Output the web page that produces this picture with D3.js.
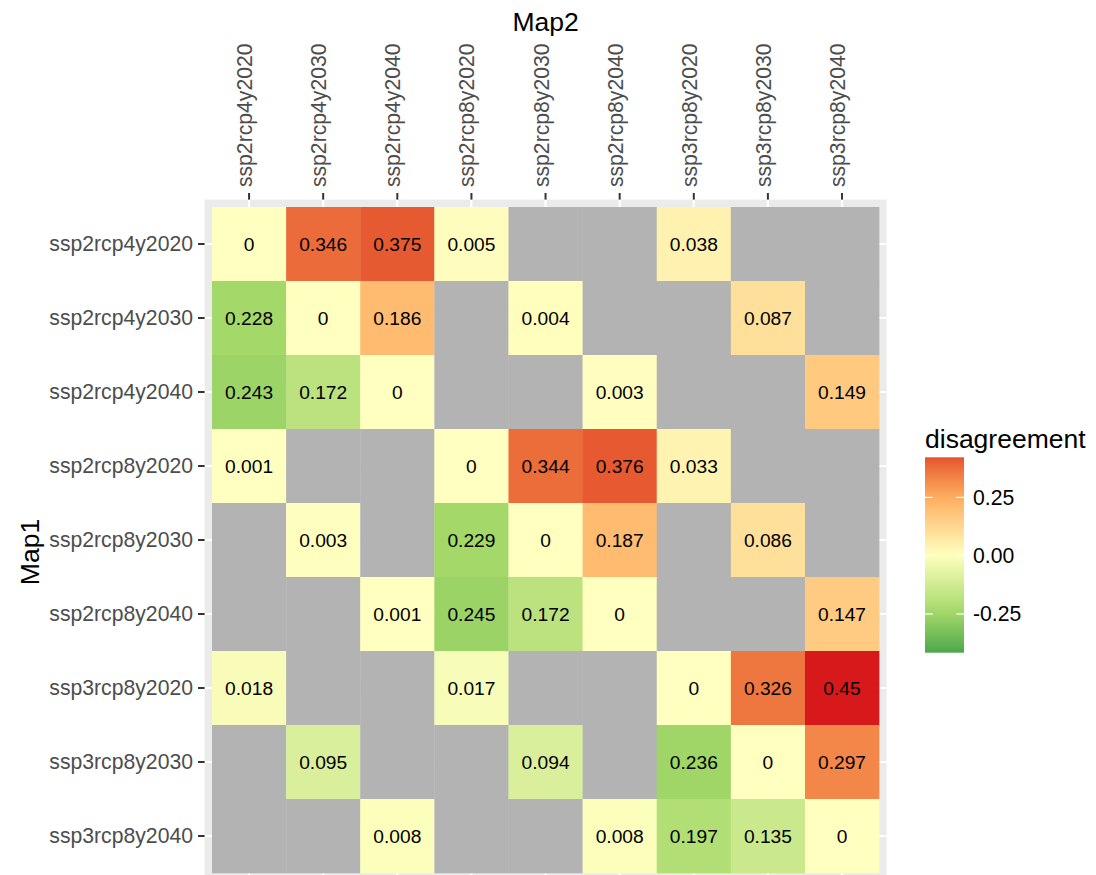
<!DOCTYPE html>
<html>
<head>
<meta charset="utf-8">
<script src="https://cdn.jsdelivr.net/npm/d3@7"></script>
<style>
  html, body { margin: 0; padding: 0; background: #ffffff; }
  svg { display: block; font-family: "Liberation Sans", Arial, sans-serif; }
</style>
</head>
<body>
<svg id="chart" width="1096" height="875"></svg>
<script>
// ---------------- data ----------------
const map1Categories = ["ssp2rcp4y2020","ssp2rcp4y2030","ssp2rcp4y2040","ssp2rcp8y2020","ssp2rcp8y2030","ssp2rcp8y2040","ssp3rcp8y2020","ssp3rcp8y2030","ssp3rcp8y2040"];
const map2Categories = ["ssp2rcp4y2020","ssp2rcp4y2030","ssp2rcp4y2040","ssp2rcp8y2020","ssp2rcp8y2030","ssp2rcp8y2040","ssp3rcp8y2020","ssp3rcp8y2030","ssp3rcp8y2040"];

// signed disagreement (lower triangle negative); null = NA
const rowSsp2rcp4y2020 = [0, 0.346, 0.375, 0.005, null, null, 0.038, null, null];
const rowSsp2rcp4y2030 = [-0.228, 0, 0.186, null, 0.004, null, null, 0.087, null];
const rowSsp2rcp4y2040 = [-0.243, -0.172, 0, null, null, 0.003, null, null, 0.149];
const rowSsp2rcp8y2020 = [-0.001, null, null, 0, 0.344, 0.376, 0.033, null, null];
const rowSsp2rcp8y2030 = [null, -0.003, null, -0.229, 0, 0.187, null, 0.086, null];
const rowSsp2rcp8y2040 = [null, null, -0.001, -0.245, -0.172, 0, null, null, 0.147];
const rowSsp3rcp8y2020 = [-0.018, null, null, -0.017, null, null, 0, 0.326, 0.45];
const rowSsp3rcp8y2030 = [null, -0.095, null, null, -0.094, null, -0.236, 0, 0.297];
const rowSsp3rcp8y2040 = [null, null, -0.008, null, null, -0.008, -0.197, -0.135, 0];

const legendTicks = [-0.25, 0, 0.25];
const legendTickLabels = ["-0.25", "0.00", "0.25"];

const rows = [rowSsp2rcp4y2020,rowSsp2rcp4y2030,rowSsp2rcp4y2040,rowSsp2rcp8y2020,rowSsp2rcp8y2030,rowSsp2rcp8y2040,rowSsp3rcp8y2020,rowSsp3rcp8y2030,rowSsp3rcp8y2040];
const cells = [];
rows.forEach((r, i) => r.forEach((v, j) => cells.push({ map1: map1Categories[i], map2: map2Categories[j], value: v })));

// ---------------- layout ----------------
const panel = { left: 204.6, right: 886.5, top: 199.6, bottom: 880.4 };
const expand = 0.6;
const unitX = (panel.right - panel.left) / (map2Categories.length - 1 + 2 * expand);
const unitY = (panel.bottom - panel.top) / (map1Categories.length - 1 + 2 * expand);

const x = d3.scaleBand().domain(map2Categories)
  .range([panel.left + (expand - 0.5) * unitX, panel.right - (expand - 0.5) * unitX]);
const y = d3.scaleBand().domain(map1Categories)
  .range([panel.top + (expand - 0.5) * unitY, panel.bottom - (expand - 0.5) * unitY]);

const color = d3.scaleLinear()
  .domain([-0.45, -0.225, 0, 0.225, 0.45])
  .range(["#1a9641", "#a6d96a", "#ffffbf", "#fdae61", "#d7191c"])
  .interpolate(d3.interpolateLab);
const naColor = "#b3b3b3";

const svg = d3.select("#chart");
const textCol = "#4d4d4d";

// panel background
svg.append("rect")
  .attr("x", panel.left).attr("y", panel.top)
  .attr("width", panel.right - panel.left).attr("height", panel.bottom - panel.top)
  .attr("fill", "#ebebeb");

// grid lines
svg.append("g").selectAll("line").data(map2Categories).join("line")
  .attr("x1", d => x(d) + x.bandwidth() / 2).attr("x2", d => x(d) + x.bandwidth() / 2)
  .attr("y1", panel.top).attr("y2", panel.bottom)
  .attr("stroke", "#ffffff").attr("stroke-width", 2.2);
svg.append("g").selectAll("line").data(map1Categories).join("line")
  .attr("y1", d => y(d) + y.bandwidth() / 2).attr("y2", d => y(d) + y.bandwidth() / 2)
  .attr("x1", panel.left).attr("x2", panel.right)
  .attr("stroke", "#ffffff").attr("stroke-width", 2.2);

// tiles
svg.append("g").selectAll("rect").data(cells).join("rect")
  .attr("x", d => x(d.map2)).attr("y", d => y(d.map1))
  .attr("width", x.bandwidth() + 0.3).attr("height", y.bandwidth() + 0.3)
  .attr("fill", d => d.value === null ? naColor : color(d.value));

// tile labels
svg.append("g").selectAll("text").data(cells.filter(d => d.value !== null)).join("text")
  .attr("x", d => x(d.map2) + x.bandwidth() / 2)
  .attr("y", d => y(d.map1) + y.bandwidth() / 2)
  .attr("dy", "0.35em")
  .attr("text-anchor", "middle")
  .attr("font-size", 19.2)
  .attr("fill", "#000000")
  .text(d => String(Math.abs(d.value)));

// top axis
const topAxis = d3.axisTop(x).tickSize(6.6).tickPadding(5);
const gTop = svg.append("g").attr("transform", `translate(0,${panel.top})`).call(topAxis);
gTop.select(".domain").remove();
gTop.selectAll(".tick line").attr("stroke", "#333333").attr("stroke-width", 2);
gTop.selectAll(".tick text")
  .attr("transform", "rotate(-90)")
  .attr("x", 12.5).attr("y", 0).attr("dy", "0.14em")
  .attr("text-anchor", "start")
  .attr("font-size", 21.2).attr("fill", textCol)
  .attr("font-family", "Liberation Sans, Arial, sans-serif");

// left axis
const leftAxis = d3.axisLeft(y).tickSize(6.6).tickPadding(5);
const gLeft = svg.append("g").attr("transform", `translate(${panel.left},0)`).call(leftAxis);
gLeft.select(".domain").remove();
gLeft.selectAll(".tick line").attr("stroke", "#333333").attr("stroke-width", 2);
gLeft.selectAll(".tick text")
  .attr("font-size", 21.2).attr("fill", textCol)
  .attr("font-family", "Liberation Sans, Arial, sans-serif");

// axis titles
svg.append("text")
  .attr("x", (panel.left + panel.right) / 2).attr("y", 31)
  .attr("text-anchor", "middle").attr("font-size", 26.5).attr("fill", "#000")
  .text("Map2");
svg.append("text")
  .attr("transform", `translate(39,${(panel.top + panel.bottom) / 2 + 12}) rotate(-90)`)
  .attr("text-anchor", "middle").attr("font-size", 26.5).attr("fill", "#000")
  .text("Map1");

// legend
const legend = { x: 925, w: 39, top: 457.3, bottom: 652.7 };
const legendScale = d3.scaleLinear().domain([-0.416, 0.422]).range([legend.bottom, legend.top]);
const legendColorDomain = [-0.39, 0.385];
const defs = svg.append("defs");
const grad = defs.append("linearGradient").attr("id", "lg")
  .attr("x1", 0).attr("y1", 1).attr("x2", 0).attr("y2", 0);
d3.range(0, 1.0001, 0.05).forEach(t => {
  const v = legendColorDomain[0] + t * (legendColorDomain[1] - legendColorDomain[0]);
  grad.append("stop").attr("offset", t).attr("stop-color", color(v));
});
svg.append("rect")
  .attr("x", legend.x).attr("y", legend.top)
  .attr("width", legend.w).attr("height", legend.bottom - legend.top)
  .attr("fill", "url(#lg)");
const lt = svg.append("g");
legendTicks.forEach((t, i) => {
  const yy = legendScale(t);
  lt.append("line").attr("x1", legend.x).attr("x2", legend.x + 7.8).attr("y1", yy).attr("y2", yy)
    .attr("stroke", "#ffffff").attr("stroke-width", 1.2);
  lt.append("line").attr("x1", legend.x + legend.w - 7.8).attr("x2", legend.x + legend.w).attr("y1", yy).attr("y2", yy)
    .attr("stroke", "#ffffff").attr("stroke-width", 1.2);
  lt.append("text").attr("x", legend.x + legend.w + 9).attr("y", yy).attr("dy", "0.35em")
    .attr("font-size", 21.2).attr("fill", "#000").text(legendTickLabels[i]);
});
svg.append("text")
  .attr("x", legend.x).attr("y", 448)
  .attr("font-size", 26.5).attr("fill", "#000")
  .text("disagreement");
</script>
</body>
</html>
